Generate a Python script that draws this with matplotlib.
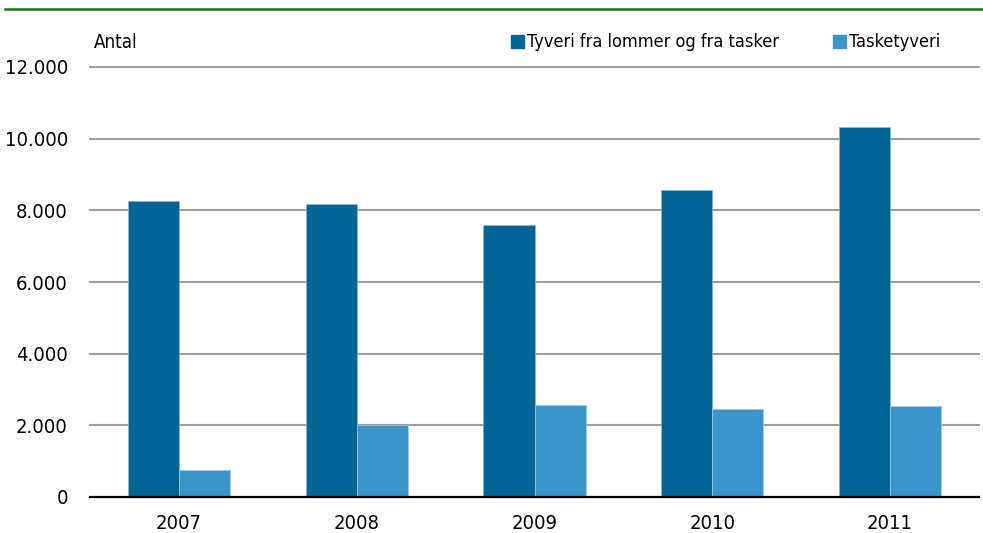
import numpy as np
import matplotlib
matplotlib.use("Agg")
import matplotlib.pyplot as plt
from matplotlib.lines import Line2D
from matplotlib.patches import Rectangle

# data
years = ["2007", "2008", "2009", "2010", "2011"]
lommer_tasker = [8265, 8176, 7580, 8566, 10326]
tasketyveri = [765, 2020, 2558, 2446, 2530]
series_names = ["Tyveri fra lommer og fra tasker", "Tasketyveri"]
yticks = [0, 2000, 4000, 6000, 8000, 10000, 12000]
ytick_labels = ["0", "2.000", "4.000", "6.000", "8.000", "10.000", "12.000"]

dark = "#036496"
light = "#3a96ca"

plt.rcParams['font.family'] = ['DejaVu Sans']
plt.rcParams['font.stretch'] = 'condensed'

W, H = 983, 533
fig = plt.figure(figsize=(W / 100, H / 100), dpi=100)
ax = fig.add_axes([90 / W, 1 - 497 / H, 889 / W, 430 / H])

x = np.arange(len(years))
w = 0.287
ax.bar(x - w / 2, lommer_tasker, width=w, color=dark, edgecolor="#8fb8d2", linewidth=0.5, zorder=3)
ax.bar(x + w / 2, tasketyveri, width=w, color=light, edgecolor="#a8cde3", linewidth=0.5, zorder=3)

ax.set_xlim(-0.5, len(years) - 0.5)
ax.set_ylim(0, 12000)
ax.set_yticks(yticks)
ax.set_yticklabels(ytick_labels)
ax.set_xticks(x)
ax.set_xticklabels(years)
ax.tick_params(axis="both", length=0, labelsize=14.5, colors="black")
ax.tick_params(axis="y", pad=16)
ax.tick_params(axis="x", pad=12)

ax.grid(axis="y", color="#9e9e9e", linewidth=1.5, zorder=0)
for gl in ax.get_ygridlines():
    gl.set_clip_on(False)
for s in ["top", "right", "left"]:
    ax.spines[s].set_visible(False)
ax.spines["bottom"].set_color("black")
ax.spines["bottom"].set_linewidth(1.6)
ax.spines["bottom"].set_zorder(4)

fig.text(94 / W, 1 - 42 / H, "Antal", fontsize=13.5, va="center", ha="left")

# legend, placed by hand
for px, col, name in [(511, dark, series_names[0]), (833, light, series_names[1])]:
    fig.add_artist(Rectangle((px / W, 1 - 48 / H), 13 / W, 13 / H,
                             transform=fig.transFigure, color=col))
    fig.text((px + 16) / W, 1 - 42 / H, name, fontsize=13, va="center", ha="left")

# green rule at the top
fig.add_artist(Line2D([5 / W, 1.0], [1 - 9 / H, 1 - 9 / H],
                      transform=fig.transFigure, color="#117a11", linewidth=1.8))

fig.savefig("out.png", dpi=100)
